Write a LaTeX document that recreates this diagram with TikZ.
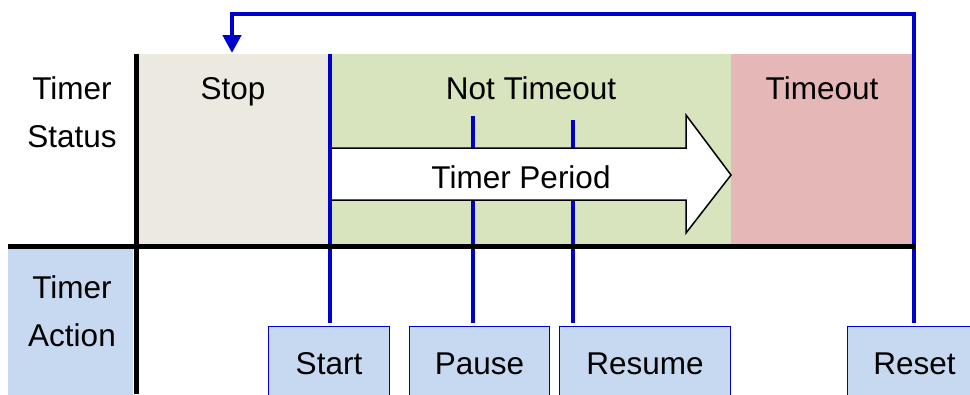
\documentclass[tikz,border=0pt]{standalone}
\usepackage{fontspec}
\setmainfont{Liberation Sans}
\usetikzlibrary{arrows.meta}
\definecolor{stopbg}{HTML}{ECEAE0}
\definecolor{okbg}{HTML}{D7E4BD}
\definecolor{tobg}{HTML}{E5B7B7}
\definecolor{actbg}{HTML}{C6D9F1}
\definecolor{lineblue}{HTML}{0000CC}
\begin{document}
\begin{tikzpicture}[x=1pt,y=-1pt,
  txt/.style={font=\fontsize{31.5}{37}\selectfont, inner sep=0pt, anchor=base},
  blueline/.style={draw=lineblue, line width=4.5pt},
  blackline/.style={draw=black, line width=5pt},
  actbox/.style={draw=lineblue, line width=1pt, fill=actbg, anchor=north west,
    minimum height=74pt, text height=22pt, text depth=0pt, inner sep=0pt,
    font=\fontsize{31.5}{37}\selectfont},
  region/.style={inner sep=0pt, anchor=north west}]
\useasboundingbox (0,0) rectangle (970,394);
\clip (0,0) rectangle (970,394);
% regions
\node[region, fill=stopbg, minimum width=194pt, minimum height=192pt] (stopreg) at (136,54) {};
\node[region, fill=okbg, minimum width=401pt, minimum height=192pt] (okreg) at (330,54) {};
\node[region, fill=tobg, minimum width=182pt, minimum height=192pt] (toreg) at (731,54) {};
\node[region, fill=actbg, minimum width=125pt, minimum height=150pt] (actreg) at (8,249) {};
% action boxes
\node[actbox, minimum width=121pt] (start) at (268,326) {Start};
\node[actbox, minimum width=140pt] (pause) at (409,326) {Pause};
\node[actbox, minimum width=171pt] (resume) at (559,326) {Resume};
\node[actbox, minimum width=134pt] (reset) at (847,326) {Reset};
% coordinates
\coordinate (starttop) at (330,54);
\coordinate (startbot) at (330,323);
\coordinate (pausetop) at (473,116);
\coordinate (pausebot) at (473,323);
\coordinate (resumetop) at (573,120);
\coordinate (resumebot) at (573,323);
\coordinate (resetbot) at (914,323);
\coordinate (resetcorner) at (914,14);
\coordinate (stopcorner) at (232,14);
\coordinate (stoparrow) at (232,53);
% pause / resume lines (behind the arrow)
\draw[blueline] (pausetop) -- (pausebot);
\draw[blueline] (resumetop) -- (resumebot);
% timer period arrow
\draw[fill=white, draw=black, line width=1.5pt, line join=miter]
  (330,148) -- (686,148) -- (686,115) -- (731,175) -- (686,233) -- (686,200) -- (330,200) -- cycle;
\node[txt] (period) at (521,188) {Timer Period};
% start line
\draw[blueline] (starttop) -- (startbot);
% reset feedback
\draw[blueline, -{Triangle[width=18pt,length=18pt]}] (resetbot) -- (resetcorner) -- (stopcorner) -- (stoparrow);
% axes
\draw[blackline] (8,246) -- (915,246);
\draw[blackline] (136,54) -- (136,394);
% labels
\node[txt] (ts1) at (72,99) {Timer};
\node[txt] (ts2) at (72,147) {Status};
\node[txt] (ta1) at (72,298) {Timer};
\node[txt] (ta2) at (72,346) {Action};
\node[txt] (stoplbl) at (233,99) {Stop};
\node[txt] (oklbl) at (531,99) {Not Timeout};
\node[txt] (tolbl) at (822,99) {Timeout};
\end{tikzpicture}
\end{document}
